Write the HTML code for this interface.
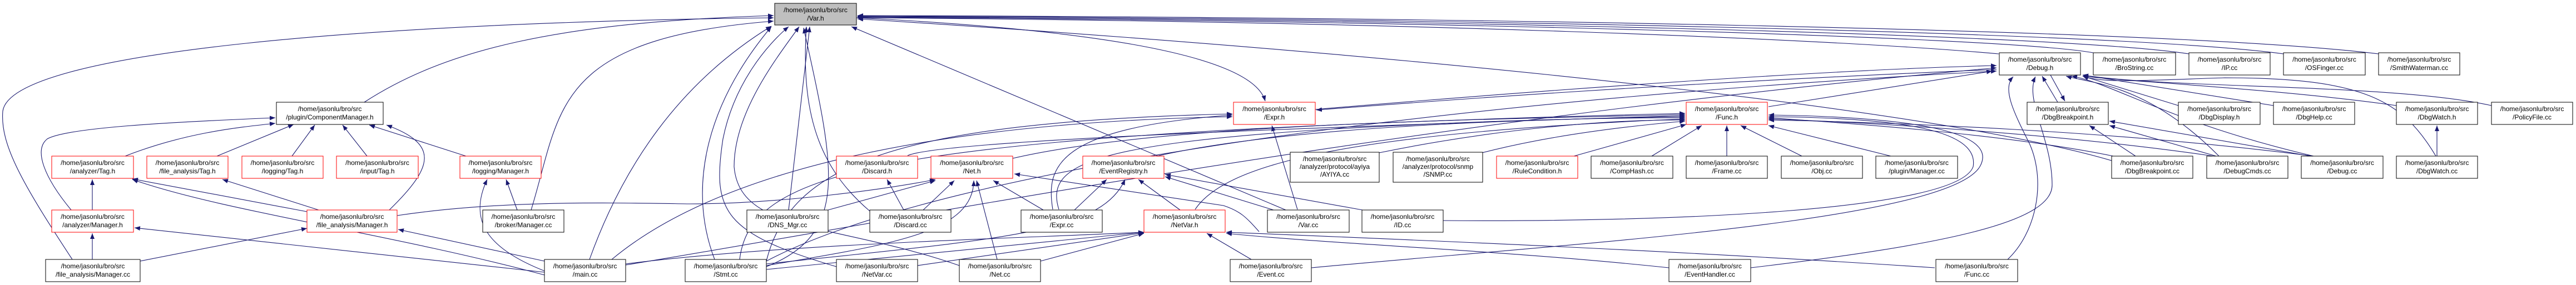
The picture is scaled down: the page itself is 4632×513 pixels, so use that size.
<!DOCTYPE html>
<html><head><meta charset="utf-8"><style>
html,body{margin:0;padding:0;background:#fff;}
svg{display:block;}
text{font-family:"Liberation Sans",sans-serif;font-size:12px;fill:#000;}
.e{fill:none;stroke:#191970;stroke-width:1.1;marker-end:url(#a);}
.n{fill:#fff;stroke:#000;stroke-width:1;}
.r{fill:#fff;stroke:#ff0000;stroke-width:1;}
</style></head><body>
<svg width="4632" height="513" viewBox="0 0 4632 513" xmlns="http://www.w3.org/2000/svg">
<defs><marker id="a" markerUnits="userSpaceOnUse" markerWidth="11" markerHeight="8" refX="10" refY="4" orient="auto"><path d="M0,0 L10,4 L0,8 z" fill="#191970"/></marker></defs>
<g>
<!-- left cluster -->
<path class="e" d="M655,184 C800,90 1000,40 1391,28"/>
<path class="e" d="M130,467 C40,330 0,260 5,200 C20,90 700,40 1391,32"/>
<path class="e" d="M955,378 C1010,200 990,70 1391,38"/>
<path class="e" d="M1060,467 C1120,300 1220,150 1387,47"/>
<path class="e" d="M225,281 C330,240 420,230 495,222"/>
<path class="e" d="M390,281 L528,224"/>
<path class="e" d="M525,281 L566,225"/>
<path class="e" d="M660,281 L616,225"/>
<path class="e" d="M838,281 L664,225"/>
<path class="e" d="M128,378 C80,320 60,270 85,250 C120,230 300,220 495,212"/>
<path class="e" d="M700,378 C780,300 790,260 695,225"/>
<path class="e" d="M166,378 L166,323"/>
<path class="e" d="M166,467 L166,420"/>
<path class="e" d="M552,381 L238,322"/>
<path class="e" d="M573,378 L400,323"/>
<path class="e" d="M979,495 C700,420 400,380 238,323"/>
<path class="e" d="M979,490 L242,410"/>
<path class="e" d="M252,470 L552,411"/>
<path class="e" d="M979,470 L716,413"/>
<path class="e" d="M985,490 C880,450 840,400 876,323"/>
<path class="e" d="M930,378 L910,323"/>
<path class="e" d="M714,388 C900,360 1100,365 1240,367 C1400,367 1600,340 1682,323"/>
<!-- Var.h bottom -->
<path class="e" d="M1285,467 C1240,350 1260,200 1387,48"/>
<path class="e" d="M1504,480 C1300,420 1280,380 1300,250 C1320,150 1380,80 1418,48"/>
<path class="e" d="M1725,478 C1500,400 1330,420 1320,300 C1320,200 1400,100 1437,48"/>
<path class="e" d="M1418,378 L1456,48"/>
<path class="e" d="M1564,380 C1470,300 1440,200 1450,48"/>
<path class="e" d="M1378,480 C1530,420 1500,300 1445,50"/>
<path class="e" d="M2312,378 L1531,48"/>
<path class="e" d="M1540,32 C1900,50 2250,90 2275,182"/>
<!-- to Func.h left -->
<path class="e" d="M1821,285 C2100,220 2700,215 3030,206"/>
<path class="e" d="M1632,280 C1700,250 2500,225 3030,208"/>
<path class="e" d="M2076,282 C2300,230 2700,215 3030,210"/>
<path class="e" d="M1904,377 C1880,300 1950,260 2400,232 C2700,215 2900,212 3030,212"/>
<path class="e" d="M2149,377 C2200,300 2400,240 3030,214"/>
<path class="e" d="M2480,275 C2700,230 2900,215 3030,216"/>
<path class="e" d="M2665,275 C2800,240 2950,225 3030,218"/>
<path class="e" d="M2830,281 L3032,224"/>
<path class="e" d="M2970,281 L3060,226"/>
<path class="e" d="M3105,281 L3105,226"/>
<path class="e" d="M3240,281 L3130,226"/>
<path class="e" d="M3400,281 L3180,226"/>
<path class="e" d="M1330,467 C1350,300 1600,240 3030,204"/>
<!-- Expr.h -->
<path class="e" d="M1893,377 C1880,300 1900,230 2216,207"/>
<path class="e" d="M2333,377 L2287,226"/>
<path class="e" d="M1378,470 C1420,300 1600,220 2216,205"/>
<path class="e" d="M1100,467 C1300,300 1700,220 2216,210"/>
<!-- EventRegistry, NetVar, Net -->
<path class="e" d="M1932,378 L1990,323"/>
<path class="e" d="M2122,378 L2047,323"/>
<path class="e" d="M2290,378 L2095,318"/>
<path class="e" d="M2450,378 L2095,314"/>
<path class="e" d="M1378,475 C1800,430 1980,420 2023,323"/>
<path class="e" d="M2250,467 L2170,420"/>
<path class="e" d="M1871,470 L2057,420"/>
<path class="e" d="M1650,478 L2057,419"/>
<path class="e" d="M1378,485 L2057,418"/>
<path class="e" d="M1125,475 C1400,440 1800,430 2057,418"/>
<path class="e" d="M3479,482 C3000,450 2500,430 2205,418"/>
<path class="e" d="M3001,482 C2700,450 2400,440 2205,420"/>
<path class="e" d="M1793,467 L1756,325"/>
<path class="e" d="M1378,478 C1600,440 1750,420 1751,325"/>
<path class="e" d="M1489,378 L1682,325"/>
<path class="e" d="M1660,378 L1716,325"/>
<path class="e" d="M1876,378 L1786,325"/>
<path class="e" d="M1625,378 L1595,323"/>
<path class="e" d="M2264,417 C2240,390 2230,380 2200,370 L1824,313"/>
<!-- Func.h right side -->
<path class="e" d="M2358,482 C2800,440 3500,400 3560,300 C3600,230 3400,210 3180,207"/>
<path class="e" d="M2595,397 C3000,400 3520,380 3548,300 C3560,230 3400,212 3180,210"/>
<path class="e" d="M3800,281 C3600,240 3300,220 3180,212"/>
<path class="e" d="M3980,281 C3700,240 3350,220 3180,214"/>
<path class="e" d="M4160,281 C3800,235 3400,220 3180,216"/>
<path class="e" d="M3180,192 L3582,128"/>
<!-- Debug.h -->
<path class="e" d="M3148,482 C3500,440 3690,400 3690,333 C3690,250 3640,180 3660,138"/>
<path class="e" d="M3610,467 C3660,420 3680,330 3650,260 C3620,200 3600,160 3620,138"/>
<path class="e" d="M1125,477 C1600,400 2500,220 3590,122"/>
<path class="e" d="M2365,197 C2800,160 3300,125 3590,118"/>
<path class="e" d="M3590,125 C3000,150 2600,180 2367,198"/>
<path class="e" d="M1378,470 C1700,300 2600,180 3590,128"/>
<path class="e" d="M3700,184 L3672,137"/>
<path class="e" d="M3687,135 L3713,182"/>
<path class="e" d="M3917,190 L3745,137"/>
<path class="e" d="M4088,190 L3745,135"/>
<path class="e" d="M4309,190 C4100,160 3800,145 3745,137"/>
<path class="e" d="M4480,190 C4300,150 3900,160 3745,135"/>
<path class="e" d="M4380,281 C4320,180 4250,140 4000,140 C3850,145 3780,150 3745,137"/>
<path class="e" d="M3990,281 C3860,150 3760,150 3715,137"/>
<path class="e" d="M4160,281 C3900,220 3800,150 3725,137"/>
<path class="e" d="M3840,281 L3757,226"/>
<path class="e" d="M3985,281 L3793,226"/>
<path class="e" d="M4155,281 L3793,218"/>
<path class="e" d="M4382,281 L4382,226"/>
<!-- Var.h right side -->
<path class="e" d="M4277,97 C3900,50 2500,30 1542,28"/>
<path class="e" d="M4106,97 C3800,55 2500,32 1542,29"/>
<path class="e" d="M3936,97 C3700,60 2500,34 1542,30"/>
<path class="e" d="M3764,95 C3600,65 2500,36 1542,31"/>
<path class="e" d="M3594,97 C3300,70 2500,38 1542,32"/>
<path class="e" d="M3800,290 C3500,200 2600,100 1542,34"/>
</g>
<g>
<rect x="1393" y="6" width="147" height="39" fill="#bfbfbf" stroke="#000"/>
<text x="1466.5" y="22" text-anchor="middle">/home/jasonlu/bro/src</text><text x="1466.5" y="37" text-anchor="middle">/Var.h</text>
</g>
<g text-anchor="middle">
<rect class="n" x="497" y="184" width="192" height="40"/><text x="593" y="200">/home/jasonlu/bro/src</text><text x="593" y="215">/plugin/ComponentManager.h</text>
<rect class="r" x="93" y="281" width="147" height="40"/><text x="166.5" y="297">/home/jasonlu/bro/src</text><text x="166.5" y="312">/analyzer/Tag.h</text>
<rect class="r" x="264" y="281" width="146" height="40"/><text x="337" y="297">/home/jasonlu/bro/src</text><text x="337" y="312">/file_analysis/Tag.h</text>
<rect class="r" x="435" y="281" width="146" height="40"/><text x="508" y="297">/home/jasonlu/bro/src</text><text x="508" y="312">/logging/Tag.h</text>
<rect class="r" x="605" y="281" width="147" height="40"/><text x="678.5" y="297">/home/jasonlu/bro/src</text><text x="678.5" y="312">/input/Tag.h</text>
<rect class="r" x="827" y="281" width="146" height="40"/><text x="900" y="297">/home/jasonlu/bro/src</text><text x="900" y="312">/logging/Manager.h</text>
<rect class="r" x="93" y="378" width="147" height="40"/><text x="166.5" y="394">/home/jasonlu/bro/src</text><text x="166.5" y="409">/analyzer/Manager.h</text>
<rect class="r" x="552" y="378" width="162" height="40"/><text x="633" y="394">/home/jasonlu/bro/src</text><text x="633" y="409">/file_analysis/Manager.h</text>
<rect class="n" x="868" y="378" width="146" height="40"/><text x="941" y="394">/home/jasonlu/bro/src</text><text x="941" y="409">/broker/Manager.cc</text>
<rect class="n" x="82" y="467" width="170" height="40"/><text x="167" y="483">/home/jasonlu/bro/src</text><text x="167" y="498">/file_analysis/Manager.cc</text>
<rect class="n" x="979" y="467" width="146" height="40"/><text x="1052" y="483">/home/jasonlu/bro/src</text><text x="1052" y="498">/main.cc</text>
<rect class="r" x="2218" y="184" width="147" height="40"/><text x="2291.5" y="200">/home/jasonlu/bro/src</text><text x="2291.5" y="215">/Expr.h</text>
<rect class="r" x="1504" y="281" width="146" height="40"/><text x="1577" y="297">/home/jasonlu/bro/src</text><text x="1577" y="312">/Discard.h</text>
<rect class="r" x="1674" y="281" width="147" height="40"/><text x="1747.5" y="297">/home/jasonlu/bro/src</text><text x="1747.5" y="312">/Net.h</text>
<rect class="r" x="1947" y="281" width="146" height="40"/><text x="2020" y="297">/home/jasonlu/bro/src</text><text x="2020" y="312">/EventRegistry.h</text>
<rect class="n" x="2320" y="274" width="160" height="54"/><text x="2400" y="290">/home/jasonlu/bro/src</text><text x="2400" y="304">/analyzer/protocol/ayiya</text><text x="2400" y="318">/AYIYA.cc</text>
<rect class="n" x="2505" y="274" width="161" height="54"/><text x="2585.5" y="290">/home/jasonlu/bro/src</text><text x="2585.5" y="304">/analyzer/protocol/snmp</text><text x="2585.5" y="318">/SNMP.cc</text>
<rect class="r" x="2691" y="281" width="146" height="40"/><text x="2764" y="297">/home/jasonlu/bro/src</text><text x="2764" y="312">/RuleCondition.h</text>
<rect class="n" x="2861" y="281" width="147" height="40"/><text x="2934.5" y="297">/home/jasonlu/bro/src</text><text x="2934.5" y="312">/CompHash.cc</text>
<rect class="r" x="3032" y="184" width="146" height="40"/><text x="3105" y="200">/home/jasonlu/bro/src</text><text x="3105" y="215">/Func.h</text>
<rect class="n" x="3032" y="281" width="146" height="40"/><text x="3105" y="297">/home/jasonlu/bro/src</text><text x="3105" y="312">/Frame.cc</text>
<rect class="n" x="3203" y="281" width="146" height="40"/><text x="3276" y="297">/home/jasonlu/bro/src</text><text x="3276" y="312">/Obj.cc</text>
<rect class="n" x="3373" y="281" width="147" height="40"/><text x="3446.5" y="297">/home/jasonlu/bro/src</text><text x="3446.5" y="312">/plugin/Manager.cc</text>
<rect class="n" x="1343" y="378" width="146" height="40"/><text x="1416" y="394">/home/jasonlu/bro/src</text><text x="1416" y="409">/DNS_Mgr.cc</text>
<rect class="n" x="1564" y="378" width="146" height="40"/><text x="1637" y="394">/home/jasonlu/bro/src</text><text x="1637" y="409">/Discard.cc</text>
<rect class="n" x="1836" y="378" width="146" height="40"/><text x="1909" y="394">/home/jasonlu/bro/src</text><text x="1909" y="409">/Expr.cc</text>
<rect class="r" x="2057" y="378" width="146" height="40"/><text x="2130" y="394">/home/jasonlu/bro/src</text><text x="2130" y="409">/NetVar.h</text>
<rect class="n" x="2279" y="378" width="147" height="40"/><text x="2352.5" y="394">/home/jasonlu/bro/src</text><text x="2352.5" y="409">/Var.cc</text>
<rect class="n" x="2449" y="378" width="146" height="40"/><text x="2522" y="394">/home/jasonlu/bro/src</text><text x="2522" y="409">/ID.cc</text>
<rect class="n" x="1232" y="467" width="146" height="40"/><text x="1305" y="483">/home/jasonlu/bro/src</text><text x="1305" y="498">/Stmt.cc</text>
<rect class="n" x="1504" y="467" width="146" height="40"/><text x="1577" y="483">/home/jasonlu/bro/src</text><text x="1577" y="498">/NetVar.cc</text>
<rect class="n" x="1725" y="467" width="146" height="40"/><text x="1798" y="483">/home/jasonlu/bro/src</text><text x="1798" y="498">/Net.cc</text>
<rect class="n" x="2212" y="467" width="146" height="40"/><text x="2285" y="483">/home/jasonlu/bro/src</text><text x="2285" y="498">/Event.cc</text>
<rect class="n" x="3001" y="467" width="147" height="40"/><text x="3074.5" y="483">/home/jasonlu/bro/src</text><text x="3074.5" y="498">/EventHandler.cc</text>
<rect class="n" x="3481" y="467" width="147" height="40"/><text x="3554.5" y="483">/home/jasonlu/bro/src</text><text x="3554.5" y="498">/Func.cc</text>
<rect class="n" x="3595" y="95" width="146" height="40"/><text x="3668" y="111">/home/jasonlu/bro/src</text><text x="3668" y="126">/Debug.h</text>
<rect class="n" x="3764" y="95" width="148" height="40"/><text x="3838" y="111">/home/jasonlu/bro/src</text><text x="3838" y="126">/BroString.cc</text>
<rect class="n" x="3936" y="95" width="146" height="40"/><text x="4009" y="111">/home/jasonlu/bro/src</text><text x="4009" y="126">/IP.cc</text>
<rect class="n" x="4106" y="95" width="147" height="40"/><text x="4179.5" y="111">/home/jasonlu/bro/src</text><text x="4179.5" y="126">/OSFinger.cc</text>
<rect class="n" x="4277" y="95" width="146" height="40"/><text x="4350" y="111">/home/jasonlu/bro/src</text><text x="4350" y="126">/SmithWaterman.cc</text>
<rect class="n" x="3645" y="184" width="146" height="40"/><text x="3718" y="200">/home/jasonlu/bro/src</text><text x="3718" y="215">/DbgBreakpoint.h</text>
<rect class="n" x="3917" y="184" width="147" height="40"/><text x="3990.5" y="200">/home/jasonlu/bro/src</text><text x="3990.5" y="215">/DbgDisplay.h</text>
<rect class="n" x="4088" y="184" width="146" height="40"/><text x="4161" y="200">/home/jasonlu/bro/src</text><text x="4161" y="215">/DbgHelp.cc</text>
<rect class="n" x="4309" y="184" width="146" height="40"/><text x="4382" y="200">/home/jasonlu/bro/src</text><text x="4382" y="215">/DbgWatch.h</text>
<rect class="n" x="4480" y="184" width="146" height="40"/><text x="4553" y="200">/home/jasonlu/bro/src</text><text x="4553" y="215">/PolicyFile.cc</text>
<rect class="n" x="3797" y="281" width="146" height="40"/><text x="3870" y="297">/home/jasonlu/bro/src</text><text x="3870" y="312">/DbgBreakpoint.cc</text>
<rect class="n" x="3968" y="281" width="146" height="40"/><text x="4041" y="297">/home/jasonlu/bro/src</text><text x="4041" y="312">/DebugCmds.cc</text>
<rect class="n" x="4138" y="281" width="147" height="40"/><text x="4211.5" y="297">/home/jasonlu/bro/src</text><text x="4211.5" y="312">/Debug.cc</text>
<rect class="n" x="4309" y="281" width="146" height="40"/><text x="4382" y="297">/home/jasonlu/bro/src</text><text x="4382" y="312">/DbgWatch.cc</text>
</g>
</svg>
</body></html>
